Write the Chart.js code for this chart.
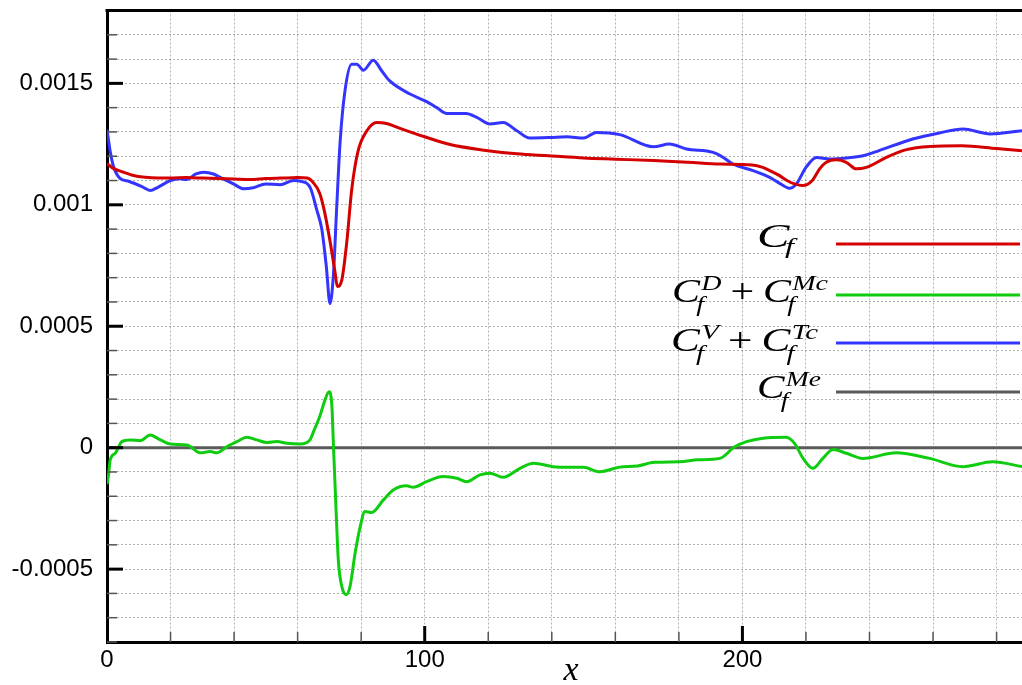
<!DOCTYPE html>
<html>
<head>
<meta charset="utf-8">
<script src="https://cdn.jsdelivr.net/npm/chart.js@4.4.0/dist/chart.umd.min.js"></script>
<style>
  html, body { margin: 0; padding: 0; background: #fff; }
  #wrap { width: 1022px; height: 685px; }
</style>
</head>
<body>
<div id="wrap"><canvas id="cf" width="1022" height="685"></canvas></div>
<script>
// C_f (total)
const cfX = [0, 2, 5, 8, 12, 16, 20, 25, 30, 35, 40, 45, 50, 55, 60, 63, 65, 67, 68.5, 70.2, 71.8, 72.5, 73.9, 75.5, 77, 79, 81.8, 84.9, 88, 92, 100, 108, 118, 129, 139, 150, 160, 172, 183, 193, 203, 206.4, 208.6, 211.7, 214, 216.4, 218.9, 222, 224.3, 226.4, 229.6, 232.7, 235.8, 239, 245.3, 251.6, 259, 269, 280, 288];
const cfY = [0.00117, 0.00115, 0.001135, 0.001122, 0.001113, 0.00111, 0.00111, 0.001112, 0.00111, 0.001108, 0.001106, 0.001104, 0.001108, 0.00111, 0.001112, 0.00111, 0.00109, 0.001046, 0.00097, 0.00085, 0.00072, 0.000664, 0.00069, 0.00085, 0.00106, 0.00122, 0.001305, 0.001339, 0.001335, 0.001316, 0.00128, 0.001248, 0.001226, 0.00121, 0.001202, 0.001193, 0.001188, 0.001182, 0.001175, 0.001168, 0.001164, 0.001154, 0.001141, 0.00112, 0.0011, 0.001086, 0.001079, 0.0011, 0.001148, 0.001175, 0.001185, 0.001175, 0.001148, 0.001154, 0.001195, 0.001227, 0.00124, 0.001243, 0.001232, 0.001223];

// C_f^D + C_f^Mc
const dmX = [0, 0.5, 1, 2.6, 4.7, 7.3, 10.5, 13.6, 16.8, 19.9, 25.2, 29.3, 32.5, 34.6, 37.7, 40.9, 44, 47.2, 50.3, 53.5, 56.6, 60.8, 63.9, 65, 67.1, 68.6, 69.9, 70.8, 71.3, 72.1, 72.8, 73.9, 75.3, 76.5, 78.1, 79.7, 81.2, 83.3, 87, 90.1, 94.3, 96.4, 100.6, 105.8, 110.1, 113.2, 117.4, 120.5, 124.7, 130, 134.2, 140.4, 144.7, 149.9, 155.1, 161.4, 167, 172.4, 180.3, 186, 192.9, 197.6, 201.3, 206.5, 213.8, 216.4, 219.1, 222.2, 225.3, 228.5, 232.7, 237.9, 248.4, 258.9, 269.4, 278.8, 288];
const dmY = [-0.00015, -0.00011, -0.00005, -0.000023, 0.000025, 0.000032, 0.000029, 0.000052, 0.000032, 0.000015, 0.000011, -0.000021, -0.000016, -0.000021, 0.000004, 0.000025, 0.000043, 0.000032, 0.000021, 0.000025, 0.000018, 0.000015, 0.000032, 0.000066, 0.000134, 0.000196, 0.00023, 0.000168, 0.0, -0.000256, -0.000461, -0.000571, -0.000605, -0.000571, -0.000434, -0.000325, -0.000263, -0.000267, -0.000215, -0.000174, -0.000157, -0.000163, -0.00014, -0.000119, -0.000126, -0.00014, -0.000112, -0.000105, -0.000122, -0.000085, -0.000064, -0.000078, -0.000081, -0.000081, -0.000099, -0.00008, -0.000075, -0.00006, -0.000058, -0.00005, -0.000044, 0.000004, 0.000025, 0.000039, 0.000043, 0.000018, -0.000044, -0.000085, -0.000044, -0.000007, -0.000023, -0.000044, -0.000021, -0.000044, -0.000078, -0.000058, -0.000078];

// C_f^V + C_f^Tc
const vtX = [0, 1, 2, 4, 7, 11, 13.6, 16, 20, 23, 25, 28, 30.4, 33.5, 35.6, 39.8, 43, 46, 50, 54.5, 58.7, 61, 64, 66, 67.6, 69, 70.2, 71.3, 72.3, 73.4, 74.9, 77, 78.6, 80.7, 83.8, 86.5, 89, 95.4, 100.6, 103.8, 107, 113, 116.4, 120.5, 124.7, 129, 133, 139.4, 144.7, 150, 154, 161.4, 172, 177, 182.4, 190.8, 194, 197, 203.3, 208.6, 212, 215, 217, 220, 223.3, 227.4, 232.7, 238, 243, 253.6, 262, 269.4, 278, 288];
const vtY = [0.00131, 0.00122, 0.00116, 0.00111, 0.001096, 0.001075, 0.001059, 0.001072, 0.0011, 0.001107, 0.001104, 0.001127, 0.001134, 0.001127, 0.001113, 0.001086, 0.001066, 0.00107, 0.001086, 0.001083, 0.0011, 0.001097, 0.00107, 0.00098, 0.0009, 0.00075, 0.000593, 0.00072, 0.00099, 0.001264, 0.001469, 0.001579, 0.001579, 0.001554, 0.001595, 0.001551, 0.00151, 0.001456, 0.001425, 0.0014, 0.001376, 0.001376, 0.00136, 0.001333, 0.001339, 0.001305, 0.001275, 0.001277, 0.00128, 0.001275, 0.001298, 0.001289, 0.001239, 0.00125, 0.00123, 0.001216, 0.001195, 0.001168, 0.001141, 0.001113, 0.001086, 0.001068, 0.001086, 0.001154, 0.001195, 0.001189, 0.001193, 0.001202, 0.001223, 0.001271, 0.001296, 0.001312, 0.001292, 0.001305];

// C_f^Me
const meX = [0, 288];
const meY = [0, 0];

const seriesColors = ['#d40000', '#10cc10', '#3434ff', '#5a5a5a'];

// legend rows: [base, sub, sup] terms and '+' operators
const legendRows = [
  [['C', 'f', '']],
  [['C', 'f', 'D'], '+', ['C', 'f', 'Mc']],
  [['C', 'f', 'V'], '+', ['C', 'f', 'Tc']],
  [['C', 'f', 'Me']]
];

function toPoints(xs, ys) {
  return xs.map((x, i) => ({ x: x, y: ys[i] }));
}

function drawMath(ctx, parts, left, right, base) {
  // first pass measures, second draws stretched to [left, right]
  const pass = (draw) => {
    let x = 0;
    parts.forEach(p => {
      if (typeof p === 'string') {
        ctx.font = '33px "Liberation Serif"';
        x += 7;
        if (draw) ctx.fillText(p, x, 0);
        x += ctx.measureText(p).width + 7;
        return;
      }
      const [b, sub, sup] = p;
      ctx.font = 'italic 33px "Liberation Serif"';
      if (draw) ctx.fillText(b, x, 0);
      x += ctx.measureText(b).width;
      ctx.font = 'italic 22px "Liberation Serif"';
      let w = 0;
      if (sub) {
        if (draw) ctx.fillText(sub, x - 3, sup ? 9 : 6);
        w = ctx.measureText(sub).width - 3;
      }
      if (sup) {
        if (draw) ctx.fillText(sup, x + 1, -12);
        w = Math.max(w, ctx.measureText(sup).width + 1);
      }
      x += w;
    });
    return x;
  };
  const natural = pass(false);
  ctx.save();
  ctx.translate(left, base);
  ctx.scale((right - left) / natural, 1);
  pass(true);
  ctx.restore();
}

const frame = {
  id: 'frame',
  afterDatasetsDraw(chart) {
    const { ctx, chartArea: a, scales: { x, y } } = chart;
    ctx.save();
    ctx.lineCap = 'butt';
    // ticks pointing into the plot
    y.ticks.forEach(t => {
      const py = y.getPixelForValue(t.value);
      const major = Math.round(t.value * 1e4) % 5 === 0;
      ctx.beginPath();
      ctx.strokeStyle = major ? '#000' : '#555';
      ctx.lineWidth = major ? 3 : 1.5;
      ctx.moveTo(a.left, py);
      ctx.lineTo(a.left + (major ? 16 : 10), py);
      ctx.stroke();
    });
    x.ticks.forEach(t => {
      if (t.value === 0) return;
      const px = x.getPixelForValue(t.value);
      const major = t.value % 100 === 0;
      ctx.beginPath();
      ctx.strokeStyle = major ? '#000' : '#555';
      ctx.lineWidth = major ? 3 : 1.5;
      ctx.moveTo(px, a.bottom);
      ctx.lineTo(px, a.bottom - (major ? 16 : 10));
      ctx.stroke();
    });
    // top frame line
    ctx.beginPath();
    ctx.strokeStyle = '#000';
    ctx.lineWidth = 3;
    ctx.moveTo(a.left - 1.5, a.top);
    ctx.lineTo(a.right, a.top);
    ctx.stroke();

    // legend
    const rowsY = [244, 295, 343, 392];
    const textL = [757, 672, 671, 757];
    const textR = [794, 828, 818, 821];
    const baseY = [247, 302, 351, 398];
    legendRows.forEach((row, i) => {
      ctx.beginPath();
      ctx.strokeStyle = seriesColors[i];
      ctx.lineWidth = 3;
      ctx.moveTo(836, rowsY[i]);
      ctx.lineTo(1020, rowsY[i]);
      ctx.stroke();
      ctx.fillStyle = '#000';
      ctx.textBaseline = 'alphabetic';
      ctx.textAlign = 'left';
      drawMath(ctx, row, textL[i], textR[i], baseY[i]);
    });

    // axis title
    ctx.font = 'italic 34px "Liberation Serif"';
    ctx.textAlign = 'center';
    ctx.fillStyle = '#000';
    ctx.fillText('x', 571, 680);
    ctx.restore();
  }
};

const labels = ['Cf', 'CfD + CfMc', 'CfV + CfTc', 'CfMe'];
const sets = [[cfX, cfY], [dmX, dmY], [vtX, vtY], [meX, meY]];

new Chart(document.getElementById('cf').getContext('2d'), {
  type: 'line',
  data: {
    datasets: sets.map((s, i) => ({
      label: labels[i],
      data: toPoints(s[0], s[1]),
      borderColor: seriesColors[i],
      borderWidth: 3,
      pointRadius: 0,
      fill: false,
      tension: 0.4,
      cubicInterpolationMode: 'monotone'
    }))
  },
  options: {
    responsive: false,
    animation: false,
    layout: { padding: { top: 10.5, right: 0, left: 0, bottom: 0 } },
    plugins: { legend: { display: false }, tooltip: { enabled: false } },
    scales: {
      x: {
        type: 'linear',
        min: 0,
        max: 288,
        afterFit: s => { s.height = 43; s.paddingLeft = 0; s.paddingRight = 0; },
        grid: { color: 'rgba(0,0,0,0.3)', lineWidth: 1, drawTicks: false },
        border: { display: true, color: '#000', width: 3, dash: [2, 2] },
        ticks: {
          stepSize: 20,
          includeBounds: false,
          autoSkip: false,
          maxRotation: 0,
          padding: 4,
          color: '#000',
          font: { family: '"Liberation Sans", Arial, sans-serif', size: 24 },
          callback: v => (v % 100 === 0 ? String(v) : '')
        }
      },
      y: {
        type: 'linear',
        min: -0.0008,
        max: 0.0018,
        afterFit: s => { s.width = 107; s.paddingTop = 0; s.paddingBottom = 0; },
        grid: { color: 'rgba(0,0,0,0.3)', lineWidth: 1, drawTicks: false },
        border: { display: true, color: '#000', width: 3, dash: [2, 2] },
        ticks: {
          stepSize: 0.0001,
          includeBounds: false,
          autoSkip: false,
          padding: 14,
          color: '#000',
          font: { family: '"Liberation Sans", Arial, sans-serif', size: 24 },
          callback: v => {
            const k = Math.round(v * 1e4);
            return k % 5 === 0 ? String(k / 1e4) : '';
          }
        }
      }
    }
  },
  plugins: [frame]
});
</script>
</body>
</html>
